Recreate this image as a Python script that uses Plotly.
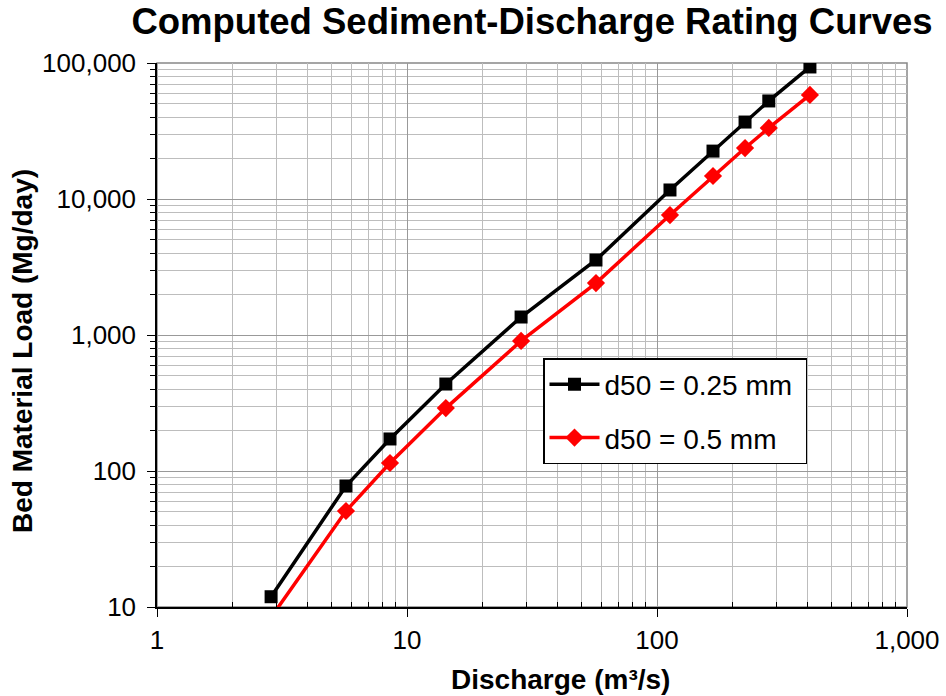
import plotly.graph_objects as go

discharge = [2.86, 5.70, 8.55, 14.3, 28.6, 57.0, 112.7, 167.5, 225, 280, 409]
load_025 = [11.9, 77.6, 172, 436, 1356, 3560, 11650, 22500, 36800, 52600, 93500]
load_05 = [8.4, 50.8, 114.5, 290, 904, 2410, 7620, 14760, 23700, 33300, 58200]

x_ticks = [1, 10, 100, 1000]
x_ticklabels = ["1", "10", "100", "1,000"]
y_ticks = [10, 100, 1000, 10000, 100000]
y_ticklabels = ["10", "100", "1,000", "10,000", "100,000"]

x_minor = [m * 10 ** d for d in range(0, 3) for m in range(2, 10)]
y_minor = [m * 10 ** d for d in range(1, 5) for m in range(2, 10)]

font_family = "Liberation Sans, Arial, sans-serif"

fig = go.Figure()
fig.add_trace(go.Scatter(
    x=discharge, y=load_025, mode="lines+markers", name="d50 = 0.25 mm\u00a0",
    legendgroup="a",
    line=dict(color="black", width=3.5),
    marker=dict(symbol="square", size=13, color="black"),
))
fig.add_trace(go.Scatter(
    x=discharge, y=load_05, mode="lines+markers", name="d50 = 0.5 mm",
    legendgroup="b",
    line=dict(color="#ff0000", width=3.5),
    marker=dict(symbol="diamond", size=14, color="#ff0000"),
))

fig.update_layout(
    width=946, height=696,
    paper_bgcolor="white", plot_bgcolor="white",
    margin=dict(l=157, r=39, t=63, b=89, autoexpand=False),
    title=dict(text="<b>Computed Sediment-Discharge Rating Curves</b>",
               xref="paper", x=0.5, xanchor="center",
               yref="container", y=1 - 21 / 696, yanchor="middle",
               font=dict(family=font_family, size=36.5, color="black")),
    font=dict(family=font_family, color="black"),
    showlegend=True,
    legend=dict(x=(543 - 157) / 750, y=(607 - 358) / 544, xanchor="left", yanchor="top",
                bgcolor="white", bordercolor="black", borderwidth=1.5,
                font=dict(size=28, family=font_family, color="black"),
                itemwidth=50, tracegroupgap=14),
)

fig.update_xaxes(
    type="log", range=[0, 3],
    tickvals=x_ticks, ticktext=x_ticklabels,
    tickfont=dict(size=26, family=font_family, color="black"),
    showgrid=True, gridcolor="#999999", gridwidth=1,
    showline=True, linecolor="black", linewidth=1.5,
    ticks="outside", ticklen=8, tickcolor="black", tickwidth=1,
    ticklabelstandoff=1,
    minor=dict(tickvals=x_minor, showgrid=True, gridcolor="#bdbdbd", gridwidth=1,
               ticks="inside", ticklen=5, tickcolor="black"),
    zeroline=False,
)
fig.update_yaxes(
    type="log", range=[1, 5],
    tickvals=y_ticks, ticktext=y_ticklabels,
    tickfont=dict(size=26, family=font_family, color="black"),
    showgrid=True, gridcolor="#999999", gridwidth=1,
    showline=True, linecolor="black", linewidth=1.5,
    ticks="outside", ticklen=8, tickcolor="black", tickwidth=1,
    ticklabelstandoff=6,
    minor=dict(tickvals=y_minor, showgrid=True, gridcolor="#bdbdbd", gridwidth=1,
               ticks="outside", ticklen=5, tickcolor="black"),
    zeroline=False,
)

fig.add_annotation(text="<b>Discharge (m³/s)</b>", xref="paper", yref="paper",
                   x=(560 - 157) / 750, y=(607 - 679) / 544, xanchor="center", yanchor="middle",
                   showarrow=False, font=dict(size=28, family=font_family, color="black"))
fig.add_annotation(text="<b>Bed Material Load (Mg/day)</b>", xref="paper", yref="paper",
                   x=(22 - 157) / 750, y=(607 - 351) / 544, xanchor="center", yanchor="middle",
                   textangle=-90,
                   showarrow=False, font=dict(size=28, family=font_family, color="black"))

fig.add_shape(type="rect", xref="paper", yref="paper", x0=0, x1=1, y0=0, y1=1,
              line=dict(color="#888888", width=1.5), layer="below")

fig.write_html("out.html", config={"displayModeBar": False},
               post_script="document.body.style.margin='0';document.body.style.overflow='hidden';")
